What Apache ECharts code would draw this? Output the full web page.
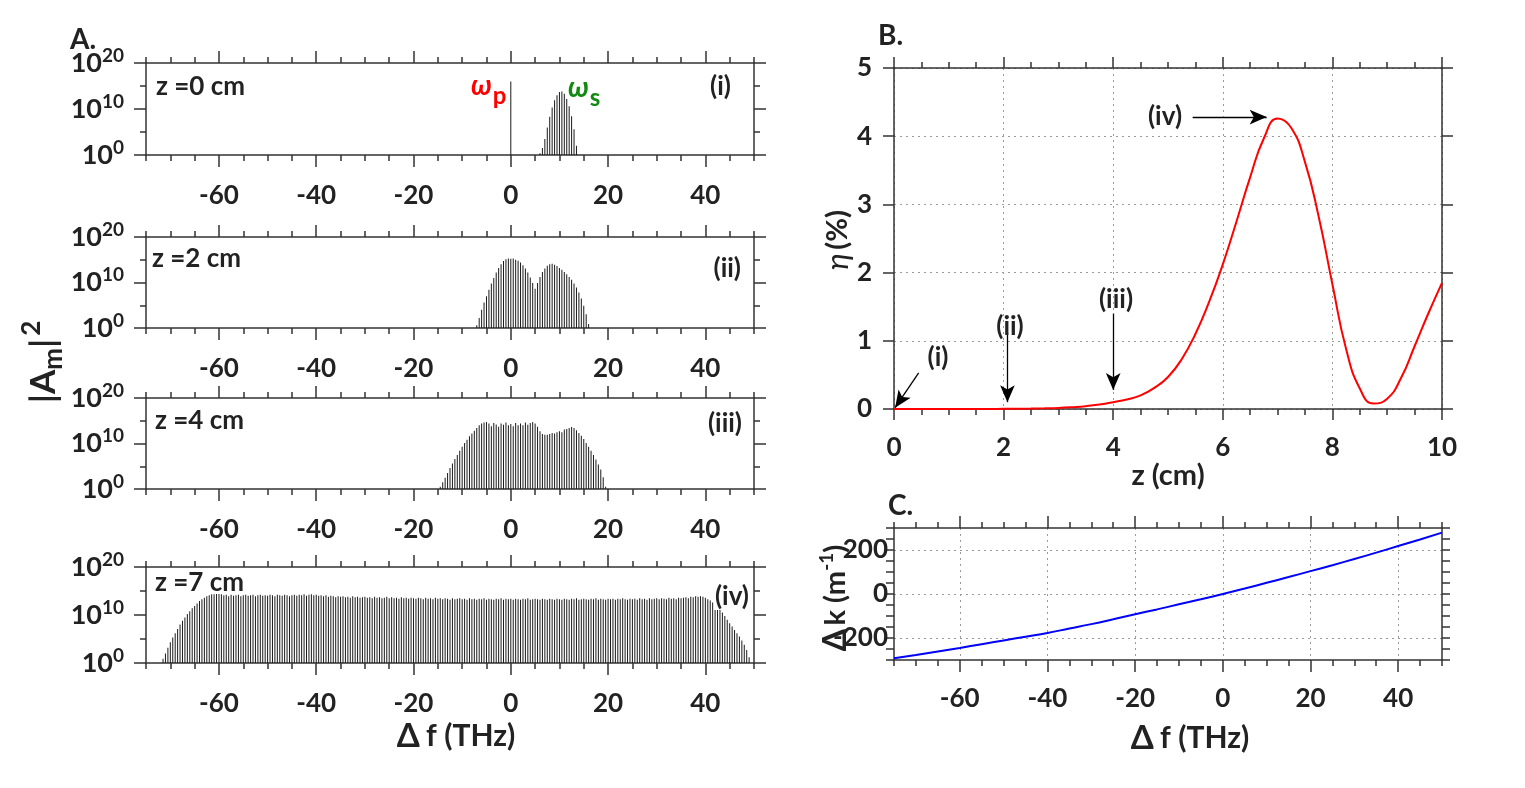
<!DOCTYPE html>
<html>
<head>
<meta charset="utf-8">
<script src="https://cdn.jsdelivr.net/npm/echarts@6/dist/echarts.min.js"></script>
<style>
  html, body { margin: 0; background: #fff; }
  #chart { width: 1525px; height: 788px; }
</style>
</head>
<body>
<div id="chart"></div>
<script>
// spectra: log10(|A_m|^2) on a 0.5 THz comb
var combStep = 0.5
var pumpF = 0
var pumpLog = 16
var z0Start = 6
var z0Log = [0.4, 1.5, 3.5, 6.0, 8.3, 10.3, 11.9, 13.0, 13.7, 13.8, 13.3, 12.2, 10.6, 8.4, 5.6, 2.0]
var z2Start = -7
var z2Log = [
  0.6, 2.2, 4.0, 5.6, 7.0, 8.4, 9.8, 11.0, 12.2, 13.2,
  14.0, 14.7, 15.1, 15.3, 15.2, 15.3, 15.0, 14.8, 14.4, 13.8,
  13.1, 12.2, 11.1, 9.9, 8.6, 9.9, 11.2, 12.3, 13.1, 13.7,
  14.0, 14.1, 13.9, 13.6, 13.2, 12.8, 12.3, 11.8, 11.2, 10.6,
  9.8, 8.9, 7.8, 6.5, 4.9, 3.0, 0.9
]
var z4Start = -14.5
var z4Log = [
  0.5, 1.5, 2.5, 3.5, 4.6, 5.6, 6.6, 7.5, 8.4, 9.3,
  10.1, 10.8, 11.6, 12.2, 12.8, 13.4, 14.0, 14.4, 14.6, 14.7,
  14.4, 13.8, 14.5, 14.2, 13.7, 14.4, 14.1, 14.6, 14.0, 14.3,
  13.8, 14.5, 14.0, 14.4, 14.0, 14.6, 14.1, 14.5, 14.7, 14.4,
  13.7, 12.7, 12.1, 11.9, 11.9, 12.1, 12.3, 12.2, 12.5, 12.7,
  12.5, 13.1, 13.2, 13.4, 13.6, 13.4, 12.9, 12.3, 11.7, 11.0,
  10.1, 9.3, 8.4, 7.5, 6.5, 5.4, 4.3, 2.6, 0.5
]
var z7Start = -71.5
var z7Log = [
  0.9, 2.0, 3.2, 4.3, 5.3, 6.2, 7.1, 8.0, 8.8, 9.5,
  10.2, 10.8, 11.4, 11.9, 12.4, 12.9, 13.3, 13.6, 13.9, 14.1,
  14.3, 14.3, 14.4, 14.4,
  14.3, 14.1, 14.2, 13.9, 14.2, 14.0, 14.1, 14.2, 13.9, 14.1,
  14.2, 14.0, 14.1, 14.2, 13.9, 14.1, 14.2, 14.0, 14.1, 14.0,
  14.2, 14.1, 13.9, 14.2, 14.1, 14.0, 14.2, 14.1, 13.9, 14.1,
  14.2, 14.0, 14.2, 14.1, 14.3, 14.0, 14.2, 14.3, 14.1, 14.2,
  14.0, 14.1, 13.9, 14.1, 13.8, 14.0, 13.9, 13.7, 13.9, 13.8,
  13.9, 13.7, 13.8, 13.6, 13.9, 13.7, 13.8, 13.6, 13.7, 13.8,
  13.6, 13.7, 13.5, 13.8, 13.6, 13.7, 13.5, 13.6, 13.8, 13.5,
  13.7, 13.5, 13.6, 13.4, 13.7, 13.5, 13.6, 13.4, 13.6, 13.5,
  13.4, 13.6, 13.5, 13.3, 13.6, 13.4, 13.5, 13.3, 13.6, 13.4,
  13.5, 13.3, 13.5, 13.4, 13.2, 13.5, 13.3, 13.4, 13.5, 13.3,
  13.4, 13.2, 13.5, 13.3, 13.4, 13.2, 13.4, 13.3, 13.5, 13.2,
  13.4, 13.3, 13.2, 13.4, 13.3, 13.5, 13.2, 13.4, 13.3, 13.4,
  13.2, 13.4, 13.3, 13.2, 13.4, 13.3, 13.5, 13.2, 13.3, 13.4,
  13.3, 13.2, 13.4, 13.3, 13.2, 13.4, 13.3, 13.2, 13.4, 13.3,
  13.2, 13.4, 13.3, 13.2, 13.4, 13.3, 13.5, 13.2, 13.3, 13.4,
  13.3, 13.2, 13.4, 13.3, 13.5, 13.2, 13.4, 13.3, 13.2, 13.4,
  13.3, 13.4, 13.2, 13.4, 13.3, 13.5, 13.3, 13.2, 13.4, 13.3,
  13.4, 13.2, 13.5, 13.3, 13.4, 13.2, 13.5, 13.3, 13.4, 13.5,
  13.3, 13.5, 13.4, 13.3, 13.6, 13.4, 13.5, 13.3, 13.6, 13.5,
  13.6, 13.7, 13.5, 13.8, 13.7, 13.9, 13.8, 13.9, 13.8,
  13.6, 13.3, 13.0, 12.6, 12.2, 11.7, 11.1, 10.5, 9.8, 9.0,
  8.3, 7.6, 6.9, 6.2, 5.5, 4.7, 3.8, 2.7, 1.2
]

// panel B: conversion efficiency vs propagation length
var zCm = [0, 0.25, 0.5, 0.75, 1, 1.25, 1.5, 1.75, 2, 2.25, 2.5, 2.75, 3, 3.25, 3.5, 3.75, 4, 4.25, 4.5, 4.75,
  5, 5.25, 5.5, 5.75, 6, 6.25, 6.5, 6.75, 7, 7.25, 7.5, 7.75, 8, 8.25, 8.5, 8.75, 9, 9.25, 9.5, 9.75, 10]
var etaPct = [0, 0, 0, 0, 0, 0, 0.001, 0.001, 0.002, 0.004, 0.006, 0.01, 0.016, 0.027, 0.042, 0.066, 0.1, 0.14, 0.2, 0.31,
  0.47, 0.73, 1.1, 1.57, 2.12, 2.75, 3.4, 3.97, 4.26, 4.12, 3.62, 2.82, 1.83, 0.88, 0.3, 0.08, 0.15, 0.45, 0.92, 1.4, 1.85]

// panel C: phase mismatch vs detuning
var dfTHz = [-75, -70, -65, -60, -55, -50, -45, -40, -35, -30, -25, -20, -15, -10, -5, 0, 5, 10, 15, 20, 25, 30, 35, 40, 45, 50]
var dkInvM = [-292, -277, -261, -245, -228, -211, -194, -177, -157, -137, -115, -92, -70, -47, -24, 0, 25, 51, 77, 104, 131, 159, 188, 218, 248, 279]

var fTicks = [-60, -40, -20, 0, 20, 40]
var dkTicks = [-200, 0, 200]

var AX = '#333'
var TXT = '#222'
var FONT = 'Lato, "Noto Sans", sans-serif'

function comb(start, vals) {
	return vals.map(function (v, i) {
		return [start + i * combStep, v]
	})
}

var xAxis = []
var yAxis = []

function addAxis(list, o) {
	var a = {
		type: 'value',
		gridIndex: o.grid,
		position: o.pos,
		min: o.min,
		max: o.max,
		axisLine: { show: !!o.line, onZero: false, lineStyle: { color: AX, width: 1.5 } },
		axisTick: { show: true, length: o.len || 6, lineStyle: { color: AX, width: 1.5 } },
		axisLabel: { show: false },
		splitLine: { show: false }
	}
	if (o.interval) a.interval = o.interval
	if (o.ticks) a.axisTick.customValues = o.ticks
	if (o.labels) {
		a.axisLabel = {
			show: true,
			margin: o.margin || 20,
			color: TXT,
			fontFamily: FONT,
			fontWeight: 'bold',
			fontSize: 26,
			formatter: o.fmt,
			rich: o.rich
		}
		if (o.ticks) a.axisLabel.customValues = o.ticks
	}
	if (o.split) {
		a.splitLine = { show: true, lineStyle: { color: '#9a9a9a', type: [2, 4], width: 1 } }
	}
	list.push(a)
	return list.length - 1
}

var supRich = {
	b: { fontSize: 27, fontWeight: 'bold', fontFamily: FONT, color: TXT },
	s: { fontSize: 19, fontWeight: 'bold', fontFamily: FONT, color: TXT, padding: [0, 0, 15, 0] }
}

function logFmt(v) {
	return '{b|10}{s|' + v + '}'
}

var grids = [
	{ left: 146, top: 63, width: 608, height: 92 },
	{ left: 146, top: 237, width: 608, height: 91 },
	{ left: 146, top: 398, width: 608, height: 91 },
	{ left: 146, top: 567, width: 608, height: 96 },
	{ left: 894, top: 68, width: 548, height: 341 },
	{ left: 894, top: 528, width: 548, height: 132 }
]

var spectra = [
	[[pumpF, pumpLog]].concat(comb(z0Start, z0Log)),
	comb(z2Start, z2Log),
	comb(z4Start, z4Log),
	comb(z7Start, z7Log)
]

var series = []

spectra.forEach(function (data, g) {
	addAxis(xAxis, { grid: g, pos: 'bottom', min: -75, max: 50, interval: 5, line: true })
	var xi = addAxis(xAxis, { grid: g, pos: 'bottom', min: -75, max: 50, ticks: fTicks, len: 12, labels: true, margin: 28 })
	addAxis(xAxis, { grid: g, pos: 'top', min: -75, max: 50, interval: 5, line: true })
	addAxis(xAxis, { grid: g, pos: 'top', min: -75, max: 50, ticks: fTicks, len: 12 })
	addAxis(yAxis, { grid: g, pos: 'left', min: 0, max: 20, interval: 5, line: true })
	var yi = addAxis(yAxis, { grid: g, pos: 'left', min: 0, max: 20, interval: 10, len: 12, labels: true, margin: 22, fmt: logFmt, rich: supRich })
	addAxis(yAxis, { grid: g, pos: 'right', min: 0, max: 20, interval: 5, line: true })
	addAxis(yAxis, { grid: g, pos: 'right', min: 0, max: 20, interval: 10, len: 12 })
	series.push({
		type: 'bar',
		xAxisIndex: xi,
		yAxisIndex: yi,
		data: data,
		barWidth: 1,
		silent: true,
		itemStyle: { color: '#1a1a1a' }
	})
})

// panel B
addAxis(xAxis, { grid: 4, pos: 'bottom', min: 0, max: 10, interval: 0.5, line: true })
var bx = addAxis(xAxis, { grid: 4, pos: 'bottom', min: 0, max: 10, interval: 2, len: 11, labels: true, margin: 26, split: true })
addAxis(xAxis, { grid: 4, pos: 'top', min: 0, max: 10, interval: 0.5, line: true })
addAxis(xAxis, { grid: 4, pos: 'top', min: 0, max: 10, interval: 2, len: 11 })
var by = addAxis(yAxis, { grid: 4, pos: 'left', min: 0, max: 5, interval: 1, len: 11, line: true, labels: true, margin: 22, split: true })
addAxis(yAxis, { grid: 4, pos: 'right', min: 0, max: 5, interval: 1, len: 11, line: true })

series.push({
	type: 'line',
	xAxisIndex: bx,
	yAxisIndex: by,
	data: zCm.map(function (z, i) { return [z, etaPct[i]] }),
	smooth: true,
	symbol: 'none',
	clip: false,
	silent: true,
	lineStyle: { color: '#ff0000', width: 2 },
	markLine: {
		silent: true,
		symbol: ['none', 'arrow'],
		symbolSize: [11, 17],
		lineStyle: { color: '#000', width: 1.3, type: 'solid' },
		label: { show: false },
		data: [
			[{ coord: [5.45, 4.28] }, { coord: [6.8, 4.28] }],
			[{ coord: [4.0, 1.4] }, { coord: [4.0, 0.28] }],
			[{ coord: [2.07, 1.12] }, { coord: [2.07, 0.1] }],
			[{ coord: [0.45, 0.53] }, { coord: [0.02, 0.02] }]
		]
	}
})

// panel C
addAxis(xAxis, { grid: 5, pos: 'bottom', min: -75, max: 50, interval: 5, line: true })
var cx = addAxis(xAxis, { grid: 5, pos: 'bottom', min: -75, max: 50, ticks: fTicks, len: 12, labels: true, margin: 26, split: true })
addAxis(xAxis, { grid: 5, pos: 'top', min: -75, max: 50, interval: 5, line: true })
addAxis(xAxis, { grid: 5, pos: 'top', min: -75, max: 50, ticks: fTicks, len: 12 })
addAxis(yAxis, { grid: 5, pos: 'left', min: -300, max: 300, interval: 50, len: 8, line: true })
var cy = addAxis(yAxis, { grid: 5, pos: 'left', min: -300, max: 300, ticks: dkTicks, len: 10, labels: true, margin: 6, split: true })
addAxis(yAxis, { grid: 5, pos: 'right', min: -300, max: 300, interval: 50, len: 8, line: true })

series.push({
	type: 'line',
	xAxisIndex: cx,
	yAxisIndex: cy,
	data: dfTHz.map(function (f, i) { return [f, dkInvM[i]] }),
	smooth: true,
	symbol: 'none',
	silent: true,
	lineStyle: { color: '#0000ff', width: 2 }
})

function txt(x, y, text, extra) {
	var style = {
		text: text,
		fontFamily: FONT,
		fontWeight: 'bold',
		fontSize: 26,
		fill: TXT,
		align: 'left',
		verticalAlign: 'middle'
	}
	for (var k in extra) style[k] = extra[k]
	return { type: 'text', x: x, y: y, z: 100, style: style }
}

var titleRich = {
	d: { fontSize: 33, fontFamily: FONT, fontWeight: 'bold', fill: TXT, color: TXT },
	t: { fontSize: 30, fontFamily: FONT, fontWeight: 'bold', fill: TXT, color: TXT }
}

var graphic = [
	txt(70, 40, 'A.', { fontSize: 28 }),
	txt(878, 36, 'B.', { fontSize: 28 }),
	txt(888, 506, 'C.', { fontSize: 28 }),
	txt(156, 87, 'z =0 cm'),
	txt(152, 259, 'z =2 cm'),
	txt(155, 421, 'z =4 cm'),
	txt(155, 583, 'z =7 cm'),
	txt(731, 87, '(i)', { align: 'right' }),
	txt(741, 269, '(ii)', { align: 'right' }),
	txt(742, 424, '(iii)', { align: 'right' }),
	txt(750, 597, '(iv)', { align: 'right', backgroundColor: '#fff', padding: [0, 1] }),
	txt(471, 86, '{w|\u03c9}{p|p}', {
		rich: {
			w: { fontSize: 28, fontStyle: 'italic', fontWeight: 'bold', fontFamily: FONT, fill: '#ff0000' },
			p: { fontSize: 24, fontWeight: 'bold', fontFamily: FONT, fill: '#ff0000', padding: [20, 0, 0, 1] }
		}
	}),
	txt(568, 88, '{w|\u03c9}{p|s}', {
		rich: {
			w: { fontSize: 28, fontStyle: 'italic', fontWeight: 'bold', fontFamily: FONT, fill: '#108a10' },
			p: { fontSize: 24, fontWeight: 'bold', fontFamily: FONT, fill: '#108a10', padding: [20, 0, 0, 1] }
		}
	}),
	txt(1165, 117, '(iv)', { align: 'center' }),
	txt(1116, 300, '(iii)', { align: 'center' }),
	txt(1010, 327, '(ii)', { align: 'center' }),
	txt(938, 358, '(i)', { align: 'center' }),
	txt(456, 736, '{d|\u0394} {t|f (THz)}', { align: 'center', rich: titleRich }),
	txt(1190, 738, '{d|\u0394} {t|f (THz)}', { align: 'center', rich: titleRich }),
	txt(1168, 476, 'z (cm)', { align: 'center', fontSize: 29 }),
	{
		type: 'text', x: 44, y: 362, rotation: Math.PI / 2, z: 100,
		style: {
			text: '{t||A}{m|m}{t||}{s|2}', align: 'center', verticalAlign: 'middle',
			rich: {
				t: { fontSize: 35, fontFamily: FONT, fontWeight: 'bold', fill: TXT },
				m: { fontSize: 26, fontFamily: FONT, fontWeight: 'bold', fill: TXT, padding: [20, 0, 0, 0] },
				s: { fontSize: 26, fontFamily: FONT, fontWeight: 'bold', fill: TXT, padding: [0, 0, 24, 3] }
			}
		}
	},
	{
		type: 'text', x: 838, y: 240, rotation: Math.PI / 2, z: 100,
		style: {
			text: '{e|\u03b7} {t|(%)}', align: 'center', verticalAlign: 'middle',
			rich: {
				e: { fontSize: 31, fontFamily: FONT, fontStyle: 'italic', fill: TXT },
				t: { fontSize: 29, fontFamily: FONT, fontWeight: 'bold', fill: TXT }
			}
		}
	},
	{
		type: 'text', x: 836, y: 598, rotation: Math.PI / 2, z: 100,
		style: {
			text: '{d|\u0394} {t|k (m}{s|-1}{t|)}', align: 'center', verticalAlign: 'middle',
			rich: {
				d: { fontSize: 32, fontFamily: FONT, fontWeight: 'bold', fill: TXT },
				t: { fontSize: 29, fontFamily: FONT, fontWeight: 'bold', fill: TXT },
				s: { fontSize: 19, fontFamily: FONT, fontWeight: 'bold', fill: TXT, padding: [0, 0, 18, 0] }
			}
		}
	}
]

var chart = echarts.init(document.getElementById('chart'))
chart.setOption({
	animation: false,
	backgroundColor: '#fff',
	textStyle: { fontFamily: FONT },
	grid: grids,
	xAxis: xAxis,
	yAxis: yAxis,
	series: series,
	graphic: graphic
})
</script>
</body>
</html>
